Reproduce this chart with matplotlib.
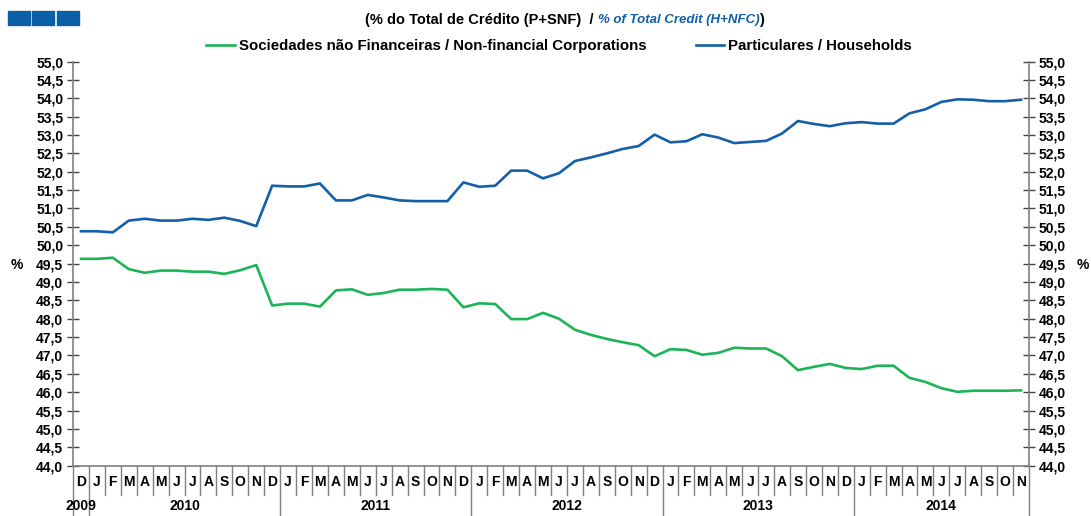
import matplotlib
matplotlib.use("Agg")
import matplotlib.pyplot as plt
from matplotlib.patches import Rectangle

plt.rcParams['font.family'] = ['Liberation Sans', 'DejaVu Sans']
plt.rcParams['font.weight'] = 'bold'

# months from Dec 2009 to Nov 2014
months = ["D"] + ["J", "F", "M", "A", "M", "J", "J", "A", "S", "O", "N", "D"] * 4 \
    + ["J", "F", "M", "A", "M", "J", "J", "A", "S", "O", "N"]
years = ["2009", "2010", "2011", "2012", "2013", "2014"]

households = [50.38, 50.38, 50.35, 50.67, 50.72, 50.67, 50.67, 50.72, 50.69, 50.75,
              50.66, 50.52, 51.62, 51.60, 51.60, 51.68, 51.22, 51.22, 51.37, 51.30,
              51.22, 51.20, 51.20, 51.20, 51.71, 51.59, 51.62, 52.03, 52.03, 51.82,
              51.96, 52.29, 52.39, 52.50, 52.62, 52.70, 53.01, 52.80, 52.83, 53.02,
              52.93, 52.78, 52.81, 52.84, 53.04, 53.38, 53.30, 53.24, 53.32, 53.35,
              53.31, 53.31, 53.59, 53.70, 53.90, 53.97, 53.96, 53.92, 53.92, 53.96]

nfc = [49.63, 49.63, 49.66, 49.35, 49.25, 49.31, 49.31, 49.28, 49.28, 49.22,
       49.32, 49.46, 48.36, 48.41, 48.41, 48.33, 48.77, 48.80, 48.65, 48.70,
       48.79, 48.79, 48.81, 48.79, 48.31, 48.42, 48.40, 47.99, 47.99, 48.16,
       48.00, 47.70, 47.56, 47.45, 47.36, 47.28, 46.98, 47.17, 47.15, 47.02,
       47.07, 47.21, 47.19, 47.19, 46.98, 46.60, 46.69, 46.77, 46.66, 46.63,
       46.72, 46.72, 46.39, 46.28, 46.11, 46.01, 46.04, 46.04, 46.04, 46.05]

yticks = [44.0 + 0.5 * k for k in range(23)]

green = '#1cb456'
blue = '#1460a8'
grey = '#808080'

W, H = 1091, 516
fig = plt.figure(figsize=(W / 100, H / 100), dpi=100)
ax = fig.add_axes([73 / W, 1 - 465.7 / H, (1029 - 73) / W, (465.7 - 61.5) / H])

x = list(range(len(months)))
l1, = ax.plot(x, nfc, color=green, lw=1.9,
              label="Sociedades não Financeiras / Non-financial Corporations")
l2, = ax.plot(x, households, color=blue, lw=1.9, label="Particulares / Households")

ax.set_xlim(-0.5, len(months) - 0.5)
ax.set_ylim(44, 55)
ax.set_yticks(yticks)
ax.set_yticklabels([f"{v:.1f}".replace('.', ',') for v in yticks])
ax.tick_params(axis='y', direction='inout', length=8, width=1, color='#444444',
               labelsize=10, right=True, labelright=True, pad=3)
ax.set_xticks([])
ax.spines['top'].set_visible(False)
for s in ['left', 'right', 'bottom']:
    ax.spines[s].set_color(grey)
    ax.spines[s].set_linewidth(1.2)

# month cells and year groups under the axis
trans = ax.get_xaxis_transform()
year_bounds = [-0.5, 0.5, 12.5, 24.5, 36.5, 48.5, len(months) - 0.5]
for i in range(len(months) + 1):
    xb = i - 0.5
    low = -0.124 if xb in year_bounds else -0.072
    ax.plot([xb, xb], [0, low], transform=trans, color=grey, lw=1, clip_on=False)
for i, m in enumerate(months):
    ax.text(i, -0.04, m, transform=trans, ha='center', va='center', fontsize=10,
            fontweight='bold')
for k, yr in enumerate(years):
    xc = (year_bounds[k] + year_bounds[k + 1]) / 2
    ax.text(xc, -0.099, yr, transform=trans, ha='center', va='center', fontsize=10,
            fontweight='bold')

# % labels on both sides
fig.text(17 / W, 1 - 265 / H, "%", ha='center', va='center', fontsize=10, fontweight='bold')
fig.text(1083 / W, 1 - 265 / H, "%", ha='center', va='center', fontsize=10, fontweight='bold')

# title in two parts
t1 = fig.text(365 / W, 1 - 20 / H, "(% do Total de Crédito (P+SNF)  / ", ha='left',
              va='center', fontsize=10.5, fontweight='bold')
t2 = ax.annotate("% of Total Credit (H+NFC)", xy=(1, 0.5), xycoords=t1, ha='left',
                 va='center', fontsize=9.5, fontweight='bold', style='italic', color=blue)
ax.annotate(")", xy=(1, 0.5), xycoords=t2, ha='left', va='center', fontsize=10.5,
            fontweight='bold')

# legend
fig.legend(handles=[l1, l2], loc='center', bbox_to_anchor=(559 / W, 1 - 46 / H), ncol=2,
           frameon=False, fontsize=10.8, handlelength=1.87, handletextpad=0.27,
           columnspacing=3.3, borderaxespad=0)

# logo blocks
for x0 in [8, 32, 57]:
    fig.patches.append(Rectangle((x0 / W, 1 - 25 / H), 22 / W, 14 / H,
                                 transform=fig.transFigure, color='#0b5ea8'))

fig.savefig("out.png", dpi=100)
